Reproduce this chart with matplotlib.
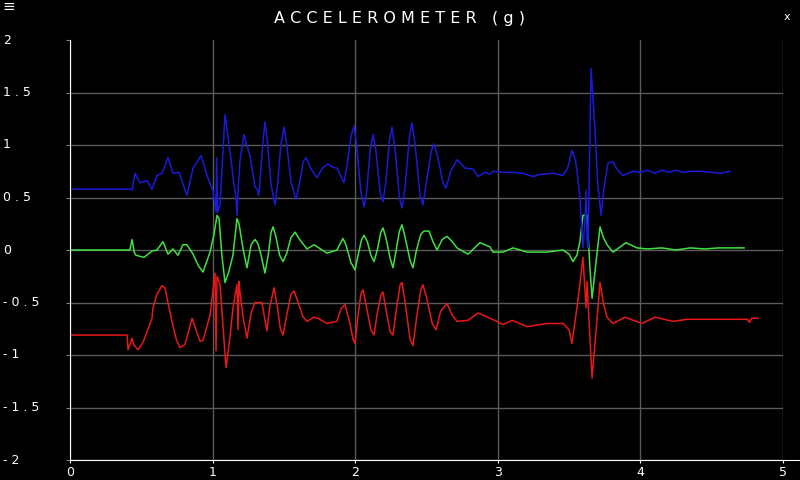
import numpy as np
import matplotlib
matplotlib.use('Agg')
from matplotlib import pyplot as plt
from matplotlib.transforms import blended_transform_factory

# accelerometer traces (time, g)
blue_t = [0, 0.42, 0.435, 0.456, 0.491, 0.540, 0.575, 0.610, 0.645, 0.687, 0.722, 0.764, 0.820,
          0.863, 0.919, 0.961, 1.003, 1.010, 1.024, 1.028, 1.035, 1.052, 1.087, 1.13, 1.150, 1.164,
          1.171, 1.178, 1.192, 1.220, 1.240, 1.262, 1.297, 1.318, 1.322, 1.330, 1.35, 1.367, 1.385,
          1.41, 1.438, 1.455, 1.48, 1.501, 1.52, 1.55, 1.585, 1.61, 1.635, 1.655, 1.69, 1.732, 1.77,
          1.809, 1.84, 1.872, 1.90, 1.921, 1.94, 1.97, 1.992, 2.01, 2.04, 2.062, 2.08, 2.105, 2.125,
          2.145, 2.175, 2.195, 2.215, 2.24, 2.258, 2.28, 2.31, 2.328, 2.35, 2.38, 2.398, 2.42, 2.455,
          2.475, 2.50, 2.535, 2.553, 2.58, 2.615, 2.637, 2.67, 2.714, 2.770, 2.826, 2.861, 2.910,
          2.945, 2.966, 3.036, 3.107, 3.177, 3.247, 3.296, 3.387, 3.457, 3.49, 3.520, 3.545, 3.560,
          3.576, 3.597, 3.612, 3.619, 3.626, 3.633, 3.654, 3.682, 3.70, 3.724, 3.745, 3.773, 3.808,
          3.84, 3.878, 3.948, 4.0, 4.05, 4.1, 4.15, 4.2, 4.25, 4.3, 4.35, 4.42, 4.5, 4.56, 4.628]
blue_g = [0.58, 0.58, 0.57, 0.73, 0.64, 0.66, 0.58, 0.71, 0.73, 0.88, 0.73, 0.74, 0.52,
          0.78, 0.90, 0.71, 0.56, 0.50, 0.36, 0.88, 0.36, 0.43, 1.29, 0.85, 0.62, 0.50,
          0.33, 0.55, 0.85, 1.10, 1.00, 0.90, 0.60, 0.57, 0.52, 0.60, 0.98, 1.22, 1.02,
          0.62, 0.43, 0.62, 1.02, 1.17, 1.00, 0.65, 0.48, 0.64, 0.84, 0.88, 0.77, 0.69, 0.78,
          0.82, 0.79, 0.78, 0.70, 0.64, 0.78, 1.08, 1.18, 1.00, 0.55, 0.41, 0.55, 0.95, 1.10,
          0.95, 0.55, 0.46, 0.65, 1.05, 1.17, 0.95, 0.50, 0.40, 0.60, 1.08, 1.21, 1.00, 0.52,
          0.43, 0.65, 0.95, 1.01, 0.88, 0.64, 0.59, 0.75, 0.86, 0.78, 0.77, 0.70, 0.74,
          0.72, 0.75, 0.74, 0.74, 0.73, 0.70, 0.72, 0.73, 0.71, 0.78, 0.95, 0.85, 0.70,
          0.50, 0.02, 0.30, 0.57, 0.10, 0.02, 1.73, 1.14, 0.65, 0.33, 0.60, 0.83, 0.84,
          0.76, 0.71, 0.75, 0.74, 0.76, 0.73, 0.76, 0.74, 0.76, 0.74, 0.75, 0.75, 0.74, 0.73, 0.75]

green_t = [0, 0.42, 0.435, 0.450, 0.463, 0.519, 0.575, 0.610, 0.652, 0.687, 0.722, 0.757, 0.792,
           0.820, 0.863, 0.90, 0.933, 0.982, 1.010, 1.031, 1.045, 1.065, 1.087, 1.115, 1.143, 1.171,
           1.185, 1.215, 1.241, 1.27, 1.297, 1.318, 1.34, 1.367, 1.39, 1.41, 1.424, 1.445, 1.47,
           1.494, 1.52, 1.55, 1.578, 1.61, 1.662, 1.711, 1.802, 1.872, 1.914, 1.935, 1.97, 1.999,
           2.02, 2.045, 2.062, 2.085, 2.11, 2.132, 2.155, 2.18, 2.195, 2.215, 2.245, 2.265, 2.285,
           2.31, 2.328, 2.35, 2.385, 2.405, 2.43, 2.46, 2.482, 2.518, 2.545, 2.574, 2.61, 2.644,
           2.68, 2.714, 2.791, 2.875, 2.945, 2.966, 3.036, 3.107, 3.205, 3.345, 3.457, 3.50,
           3.527, 3.555, 3.576, 3.597, 3.626, 3.645, 3.661, 3.69, 3.717, 3.74, 3.766, 3.808,
           3.899, 3.976, 4.05, 4.15, 4.25, 4.35, 4.45, 4.55, 4.65, 4.727]
green_g = [0.0, 0.0, 0.10, -0.02, -0.05, -0.07, -0.01, 0.0, 0.08, -0.04, 0.01, -0.05, 0.05,
           0.05, -0.04, -0.15, -0.21, -0.02, 0.15, 0.33, 0.30, -0.05, -0.31, -0.20, -0.05, 0.30,
           0.25, 0.00, -0.17, 0.05, 0.10, 0.06, -0.05, -0.22, -0.05, 0.17, 0.22, 0.12, -0.05,
           -0.11, -0.03, 0.12, 0.17, 0.10, 0.01, 0.05, -0.03, 0.0, 0.11, 0.05, -0.12, -0.19,
           -0.05, 0.10, 0.14, 0.08, -0.05, -0.11, 0.00, 0.17, 0.21, 0.12, -0.08, -0.17, -0.02,
           0.18, 0.24, 0.12, -0.10, -0.17, 0.00, 0.15, 0.18, 0.18, 0.08, 0.00, 0.10, 0.13,
           0.08, 0.02, -0.04, 0.07, 0.03, -0.02, -0.02, 0.02, -0.02, -0.02, 0.0, -0.04,
           -0.11, -0.05, 0.08, 0.33, 0.33, -0.15, -0.46, -0.10, 0.22, 0.12, 0.05, -0.02,
           0.07, 0.02, 0.01, 0.02, 0.0, 0.02, 0.01, 0.02, 0.02, 0.02]

red_t = [0, 0.40, 0.407, 0.435, 0.445, 0.477, 0.512, 0.575, 0.582, 0.61, 0.645, 0.666, 0.69,
         0.715, 0.745, 0.771, 0.806, 0.856, 0.912, 0.933, 0.982, 1.017, 1.024, 1.031, 1.052,
         1.094, 1.12, 1.143, 1.171, 1.178, 1.185, 1.192, 1.215, 1.241, 1.27, 1.297, 1.346,
         1.365, 1.381, 1.40, 1.431, 1.455, 1.475, 1.494, 1.52, 1.55, 1.571, 1.60, 1.635, 1.662,
         1.711, 1.739, 1.802, 1.872, 1.90, 1.928, 1.96, 1.985, 1.999, 2.02, 2.04, 2.055, 2.08,
         2.11, 2.132, 2.155, 2.18, 2.195, 2.22, 2.245, 2.265, 2.29, 2.315, 2.328, 2.35, 2.385,
         2.405, 2.43, 2.46, 2.475, 2.50, 2.54, 2.567, 2.60, 2.644, 2.68, 2.714, 2.791, 2.861,
         2.945, 2.994, 3.036, 3.100, 3.205, 3.345, 3.457, 3.50, 3.520, 3.56, 3.597, 3.619, 3.626,
         3.633, 3.661, 3.69, 3.717, 3.74, 3.766, 3.808, 3.892, 4.011, 4.102, 4.229, 4.327, 4.45,
         4.6, 4.75, 4.765, 4.78, 4.825]
red_g = [-0.81, -0.81, -0.95, -0.84, -0.90, -0.95, -0.88, -0.65, -0.55, -0.42, -0.34, -0.36, -0.52,
         -0.68, -0.85, -0.93, -0.90, -0.65, -0.87, -0.86, -0.62, -0.22, -0.96, -0.25, -0.33,
         -1.12, -0.85, -0.55, -0.33, -0.76, -0.30, -0.40, -0.65, -0.84, -0.60, -0.50, -0.50,
         -0.65, -0.77, -0.55, -0.36, -0.55, -0.75, -0.81, -0.62, -0.42, -0.39, -0.50, -0.64, -0.68,
         -0.64, -0.65, -0.70, -0.68, -0.56, -0.52, -0.68, -0.85, -0.89, -0.62, -0.42, -0.38, -0.55,
         -0.76, -0.81, -0.60, -0.43, -0.40, -0.60, -0.78, -0.81, -0.55, -0.33, -0.31, -0.50, -0.85,
         -0.91, -0.65, -0.38, -0.33, -0.45, -0.70, -0.76, -0.58, -0.51, -0.62, -0.68, -0.67, -0.60,
         -0.65, -0.68, -0.71, -0.67, -0.73, -0.70, -0.70, -0.76, -0.89, -0.50, -0.07, -0.55, -0.30,
         -0.50, -1.22, -0.75, -0.31, -0.50, -0.64, -0.70, -0.64, -0.70, -0.64, -0.68, -0.66, -0.66,
         -0.66, -0.66, -0.69, -0.65, -0.65]

x_ticks = [0, 1, 2, 3, 4, 5]
y_ticks = [-2, -1.5, -1, -0.5, 0, 0.5, 1, 1.5, 2]


def spaced(s):
    return ' '.join(s)


def fmt(v):
    s = f'{v:g}'
    return spaced(s)


fig = plt.figure(figsize=(8, 4.8), dpi=100, facecolor='black')
ax = fig.add_axes([70 / 800, 20 / 480, 713 / 800, 420 / 480], facecolor='black')

ax.plot(red_t, red_g, color='#e81818', lw=1.1)
ax.plot(green_t, green_g, color='#40e040', lw=1.1)
ax.plot(blue_t, blue_g, color='#1a1ad8', lw=1.1)

ax.set_xlim(0, 5)
ax.set_ylim(-2, 2)
ax.set_xticks(x_ticks)
ax.set_yticks(y_ticks)
ax.set_xticklabels([fmt(v) for v in x_ticks], color='white', fontsize=9)
ax.set_yticklabels([])
ax.tick_params(axis='x', length=2.5, color='white', pad=1.5)
ax.tick_params(axis='y', length=3, color='#808080')
ax.grid(True, color='#5a5a5a', lw=1)
ax.get_ygridlines()[-1].set_visible(False)

for side in ['top', 'right']:
    ax.spines[side].set_visible(False)
for side in ['left', 'bottom']:
    ax.spines[side].set_color('white')
ax.spines['bottom'].set_bounds(0, 5.3)

# y labels sit at the left edge of the picture
tr = blended_transform_factory(fig.transFigure, ax.transData)
for v in y_ticks:
    ax.text(3 / 800, v, fmt(v), transform=tr, color='white', fontsize=9,
            ha='left', va='center', clip_on=False)

fig.text(0.5, 1 - 18 / 480, spaced('ACCELEROMETER') + '   ( g )', color='white',
         fontsize=11.5, ha='center', va='center')
fig.text(2 / 800, 1 - 7 / 480, '≡', color='white', fontsize=11, ha='left', va='center')
fig.text(787 / 800, 1 - 17 / 480, 'x', color='white', fontsize=8, ha='center', va='center')

plt.savefig('out.png', dpi=100, facecolor='black')
plt.close(fig)
